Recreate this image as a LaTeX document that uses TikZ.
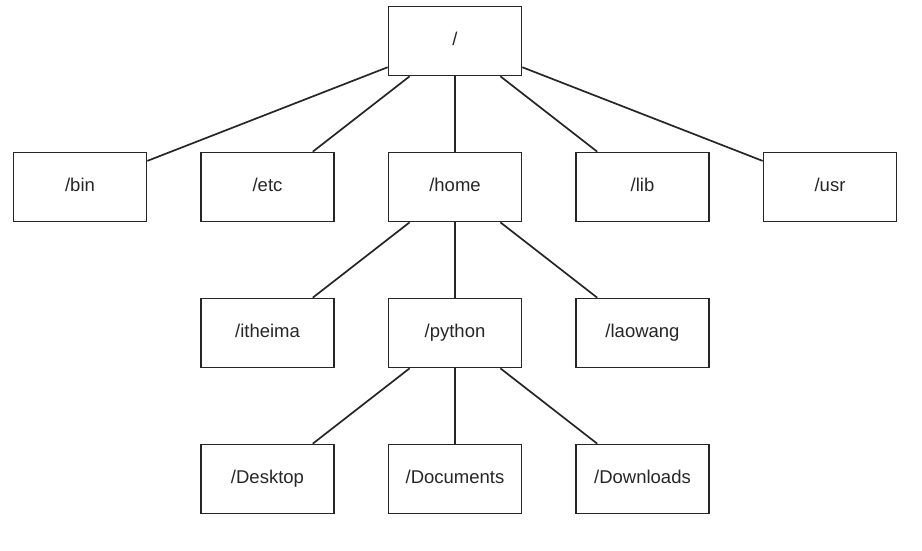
\documentclass[tikz,border=0pt]{standalone}
\usepackage{fontspec}
\setmainfont{Liberation Sans}
\usetikzlibrary{positioning}

\begin{document}
\begin{tikzpicture}[x=1pt, y=1pt, node distance=146pt and 187.5pt, on grid,
  dir/.style={draw=black!85, line width=1.7pt, text=black!85, minimum width=133pt, minimum height=69pt, text height=13pt, text depth=4pt, font=\fontsize{18.5}{22}\selectfont},
  link/.style={draw=black!85, line width=1.7pt}]
  \useasboundingbox (-455,41) rectangle (467,-510);
  % top level
  \node[dir] (root) {/};
  \node[dir] (home) [below=of root] {/home};
  \node[dir] (etc) [left=of home] {/etc};
  \node[dir] (bin) [left=of etc] {/bin};
  \node[dir] (lib) [right=of home] {/lib};
  \node[dir] (usr) [right=of lib] {/usr};
  % users
  \node[dir] (python) [below=of home] {/python};
  \node[dir] (itheima) [left=of python] {/itheima};
  \node[dir] (laowang) [right=of python] {/laowang};
  % python's folders
  \node[dir] (documents) [below=of python] {/Documents};
  \node[dir] (desktop) [left=of documents] {/Desktop};
  \node[dir] (downloads) [right=of documents] {/Downloads};
  \path[link] (root) edge (bin)
        (root) edge (etc)
        (root) edge (home)
        (root) edge (lib)
        (root) edge (usr)
        (home) edge (itheima)
        (home) edge (python)
        (home) edge (laowang)
        (python) edge (desktop)
        (python) edge (documents)
        (python) edge (downloads);
\end{tikzpicture}
\end{document}
